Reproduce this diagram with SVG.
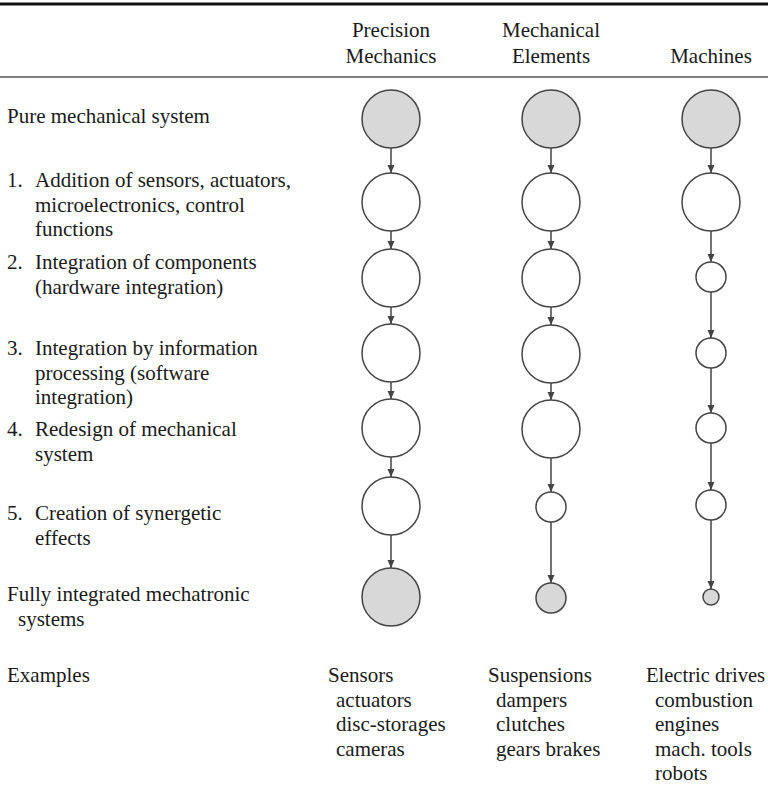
<svg xmlns="http://www.w3.org/2000/svg" width="768" height="786" viewBox="0 0 768 786">
<defs>
<style>
text{font-family:"Liberation Serif","Times New Roman",serif;font-size:21px;fill:#1a1a1a}
.h{text-anchor:middle}
.c{fill:#fff;stroke:#444;stroke-width:1.5}
.g{fill:#d8d8d8;stroke:#444;stroke-width:1.5}
.a{stroke:#444;stroke-width:1.5;fill:none;marker-end:url(#ah)}
</style>
<marker id="ah" viewBox="0 0 8 8" refX="8" refY="4" markerWidth="8" markerHeight="8" markerUnits="userSpaceOnUse" orient="auto">
<path d="M0,0.5 L8,4 L0,7.5 Z" fill="#444"/>
</marker>
</defs>
<rect width="768" height="786" fill="#fff"/>
<line x1="0" y1="4" x2="768" y2="4" stroke="#111" stroke-width="3"/>
<line x1="0" y1="77" x2="768" y2="77" stroke="#555" stroke-width="1.3"/>
<g id="headers">
<text class="h" x="391" y="37">Precision</text>
<text class="h" x="391" y="63">Mechanics</text>
<text class="h" x="551" y="37">Mechanical</text>
<text class="h" x="551" y="63">Elements</text>
<text class="h" x="711" y="63">Machines</text>
</g>
<g id="row-labels">
<text x="7" y="123">Pure mechanical system</text>
<text x="7" y="187">1.</text>
<text x="35" y="187">Addition of sensors, actuators,</text>
<text x="35" y="212">microelectronics, control</text>
<text x="35" y="236">functions</text>
<text x="7" y="269">2.</text>
<text x="35" y="269">Integration of components</text>
<text x="35" y="294">(hardware integration)</text>
<text x="7" y="355">3.</text>
<text x="35" y="355">Integration by information</text>
<text x="35" y="380">processing (software</text>
<text x="35" y="404">integration)</text>
<text x="7" y="436">4.</text>
<text x="35" y="436">Redesign of mechanical</text>
<text x="35" y="461">system</text>
<text x="7" y="520">5.</text>
<text x="35" y="520">Creation of synergetic</text>
<text x="35" y="545">effects</text>
<text x="7" y="601">Fully integrated mechatronic</text>
<text x="18" y="626">systems</text>
<text x="7" y="682">Examples</text>
</g>
<g id="connectors">
<line class="a" x1="391" y1="148" x2="391" y2="173"/>
<line class="a" x1="391" y1="231" x2="391" y2="249"/>
<line class="a" x1="391" y1="307" x2="391" y2="324"/>
<line class="a" x1="391" y1="382" x2="391" y2="399"/>
<line class="a" x1="391" y1="457" x2="391" y2="477"/>
<line class="a" x1="391" y1="535" x2="391" y2="568"/>
<line class="a" x1="551" y1="148" x2="551" y2="173"/>
<line class="a" x1="551" y1="231" x2="551" y2="249"/>
<line class="a" x1="551" y1="307" x2="551" y2="325"/>
<line class="a" x1="551" y1="383" x2="551" y2="400"/>
<line class="a" x1="551" y1="458" x2="551" y2="492"/>
<line class="a" x1="551" y1="522" x2="551" y2="583"/>
<line class="a" x1="711" y1="148" x2="711" y2="173"/>
<line class="a" x1="711" y1="231" x2="711" y2="262"/>
<line class="a" x1="711" y1="292" x2="711" y2="338"/>
<line class="a" x1="711" y1="368" x2="711" y2="413"/>
<line class="a" x1="711" y1="443" x2="711" y2="490"/>
<line class="a" x1="711" y1="520" x2="711" y2="589"/>
</g>
<g id="precision-mechanics">
<circle id="pm0" class="g" cx="391" cy="119" r="29"/>
<circle id="pm1" class="c" cx="391" cy="202" r="29"/>
<circle id="pm2" class="c" cx="391" cy="278" r="29"/>
<circle id="pm3" class="c" cx="391" cy="353" r="29"/>
<circle id="pm4" class="c" cx="391" cy="428" r="29"/>
<circle id="pm5" class="c" cx="391" cy="506" r="29"/>
<circle id="pm6" class="g" cx="391" cy="597" r="29"/>
</g>
<g id="mechanical-elements">
<circle id="me0" class="g" cx="551" cy="119" r="29"/>
<circle id="me1" class="c" cx="551" cy="202" r="29"/>
<circle id="me2" class="c" cx="551" cy="278" r="29"/>
<circle id="me3" class="c" cx="551" cy="354" r="29"/>
<circle id="me4" class="c" cx="551" cy="429" r="29"/>
<circle id="me5" class="c" cx="551" cy="507" r="15"/>
<circle id="me6" class="g" cx="551" cy="598" r="15"/>
</g>
<g id="machines">
<circle id="ma0" class="g" cx="711" cy="119" r="29"/>
<circle id="ma1" class="c" cx="711" cy="202" r="29"/>
<circle id="ma2" class="c" cx="711" cy="277" r="15"/>
<circle id="ma3" class="c" cx="711" cy="353" r="15"/>
<circle id="ma4" class="c" cx="711" cy="428" r="15"/>
<circle id="ma5" class="c" cx="711" cy="505" r="15"/>
<circle id="ma6" class="g" cx="711" cy="597" r="8"/>
</g>
<g id="examples">
<text x="328" y="682">Sensors</text>
<text x="336" y="707">actuators</text>
<text x="336" y="731">disc-storages</text>
<text x="336" y="756">cameras</text>
<text x="488" y="682">Suspensions</text>
<text x="496" y="707">dampers</text>
<text x="496" y="731">clutches</text>
<text x="496" y="756">gears brakes</text>
<text x="646" y="682" textLength="119" lengthAdjust="spacingAndGlyphs">Electric drives</text>
<text x="655" y="707">combustion</text>
<text x="655" y="731">engines</text>
<text x="655" y="756">mach. tools</text>
<text x="655" y="780">robots</text>
</g>
</svg>
